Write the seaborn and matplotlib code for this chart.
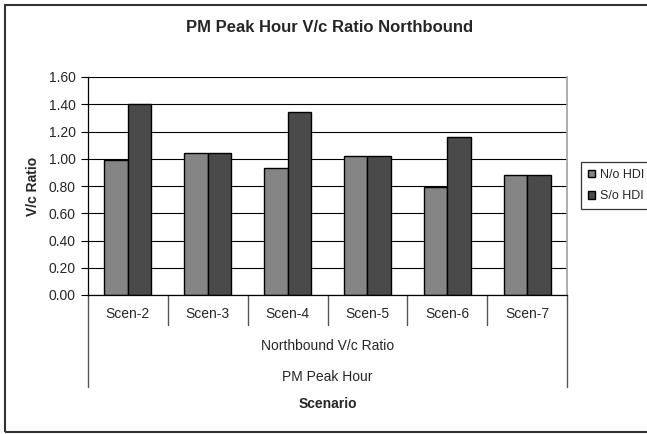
import matplotlib
matplotlib.use("Agg")
import matplotlib.pyplot as plt
import matplotlib.patches as mpatches
import matplotlib.transforms as mtransforms
import seaborn as sns
import pandas as pd

scenarios = ["Scen-2", "Scen-3", "Scen-4", "Scen-5", "Scen-6", "Scen-7"]
series_names = ["N/o HDI", "S/o HDI"]
no_hdi = [0.99, 1.04, 0.93, 1.02, 0.79, 0.88]
so_hdi = [1.40, 1.04, 1.34, 1.02, 1.16, 0.88]
yticks = [0.0, 0.2, 0.4, 0.6, 0.8, 1.0, 1.2, 1.4, 1.6]

df = pd.DataFrame({
    "Scenario": scenarios * 2,
    "Series": [series_names[0]] * 6 + [series_names[1]] * 6,
    "Value": no_hdi + so_hdi,
})

sns.set_theme(style="white")
plt.rcParams["font.family"] = ["Liberation Sans", "DejaVu Sans"]

W, H = 647, 434
fig = plt.figure(figsize=(W / 100, H / 100), dpi=100)
ax = fig.add_axes([88 / W, 1 - 295 / H, (567 - 88) / W, (295 - 77) / H])

sns.barplot(data=df, x="Scenario", y="Value", hue="Series",
            palette=["#858585", "#4a4a4a"], width=0.59, gap=0,
            edgecolor="black", linewidth=1.0, ax=ax, legend=True, saturation=1)

ax.set_ylim(0, 1.6)
ax.set_xlim(-0.5, 5.5)
ax.set_yticks(yticks)
ax.set_yticklabels([f"{v:.2f}" for v in yticks], fontsize=10)
ax.yaxis.grid(True, color="black", linewidth=0.8)
ax.set_axisbelow(True)
ax.tick_params(axis="y", length=5, width=0.8, color="black", direction="out", pad=4, left=True)
ax.tick_params(axis="x", length=0, pad=9, labelsize=10)
ax.set_xlabel("")
ax.set_ylabel("V/c Ratio", fontsize=10, fontweight="bold")
ax.yaxis.set_label_coords((33 - 88) / (567 - 88), 0.5)
ax.yaxis.label.set_verticalalignment("center")

for s in ["left", "bottom"]:
    ax.spines[s].set_color("black")
    ax.spines[s].set_linewidth(0.9)
ax.spines["top"].set_visible(False)
ax.spines["right"].set_color("#a0a0a0")
ax.spines["right"].set_linewidth(1.2)

# multi-level category separators
trans = mtransforms.blended_transform_factory(ax.transData, ax.transAxes)
ah = 295 - 77
for i in range(1, 6):
    ax.plot([i - 0.5, i - 0.5], [0, -30 / ah], transform=trans, color="#555555",
            linewidth=1.0, clip_on=False)
for xx in [-0.5, 5.5]:
    ax.plot([xx, xx], [0, -92 / ah], transform=trans, color="#555555",
            linewidth=1.0, clip_on=False)

cx = (88 + 567) / 2 / W
fig.text(cx, 1 - 346 / H, "Northbound V/c Ratio", ha="center", va="center", fontsize=10)
fig.text(cx, 1 - 377 / H, "PM Peak Hour", ha="center", va="center", fontsize=10)
fig.text(cx, 1 - 404 / H, "Scenario", ha="center", va="center", fontsize=10, fontweight="bold")
fig.text(330 / W, 1 - 27 / H, "PM Peak Hour V/c Ratio Northbound", ha="center", va="center",
         fontsize=12, fontweight="bold")

leg = ax.legend(loc="upper left", bbox_to_anchor=(581 / W, 1 - 162 / H),
                bbox_transform=fig.transFigure, fontsize=9, frameon=True,
                fancybox=False, edgecolor="black", handlelength=0.6, handleheight=0.6,
                handletextpad=0.35, borderpad=0.55, labelspacing=0.75, borderaxespad=0)
leg.get_frame().set_linewidth(0.9)

# outer chart border
fig.patches.append(mpatches.Rectangle((5 / W, 2 / H), 1.2, (432 - 5) / H,
                                      transform=fig.transFigure, fill=False,
                                      edgecolor="#333333", linewidth=1.5))

fig.savefig("out.png", dpi=100)
